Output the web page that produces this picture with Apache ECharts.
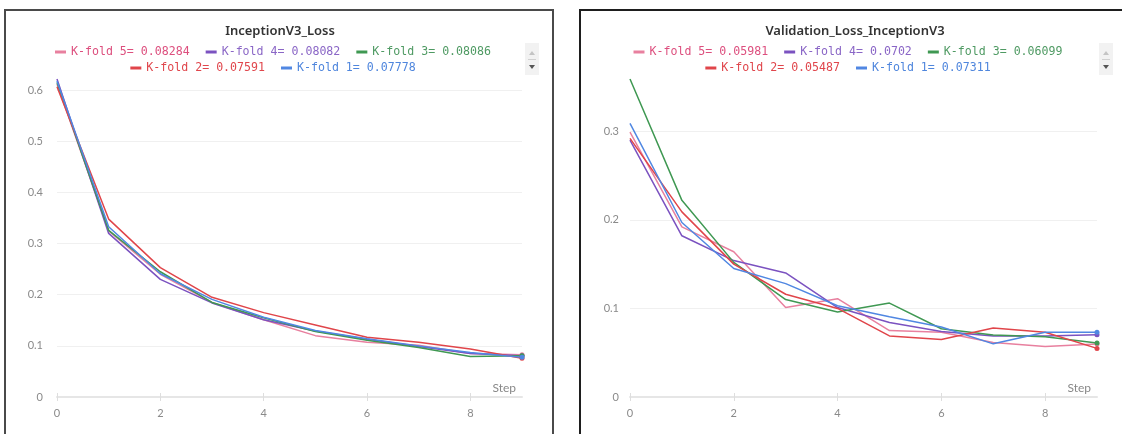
<!DOCTYPE html>
<html>
<head>
<meta charset="utf-8">
<script src="https://cdn.jsdelivr.net/npm/echarts@6/dist/echarts.min.js"></script>
<style>
html,body{margin:0;padding:0;background:#fff;}
#c{width:1122px;height:434px;}
</style>
</head>
<body>
<div id="c"></div>
<script>
// ---------- DATA ----------
const steps = [0, 1, 2, 3, 4, 5, 6, 7, 8, 9];
const foldNames = ['K-fold 5', 'K-fold 4', 'K-fold 3', 'K-fold 2', 'K-fold 1'];
const xTickValues = [0, 2, 4, 6, 8];

const trainK5 = [0.612, 0.325, 0.240, 0.185, 0.151, 0.120, 0.107, 0.101, 0.085, 0.08284];
const trainK4 = [0.622, 0.320, 0.230, 0.184, 0.151, 0.129, 0.113, 0.099, 0.085, 0.08082];
const trainK3 = [0.615, 0.326, 0.245, 0.185, 0.155, 0.128, 0.111, 0.097, 0.079, 0.08086];
const trainK2 = [0.607, 0.348, 0.253, 0.195, 0.165, 0.141, 0.117, 0.107, 0.094, 0.07591];
const trainK1 = [0.618, 0.333, 0.241, 0.191, 0.156, 0.130, 0.114, 0.100, 0.087, 0.07778];

const valK5 = [0.299, 0.192, 0.164, 0.101, 0.111, 0.075, 0.073, 0.0615, 0.057, 0.05981];
const valK4 = [0.290, 0.182, 0.154, 0.140, 0.101, 0.084, 0.074, 0.069, 0.069, 0.0702];
const valK3 = [0.359, 0.222, 0.152, 0.110, 0.096, 0.106, 0.077, 0.070, 0.068, 0.06099];
const valK2 = [0.292, 0.209, 0.150, 0.116, 0.100, 0.069, 0.065, 0.078, 0.073, 0.05487];
const valK1 = [0.309, 0.197, 0.145, 0.128, 0.103, 0.0906, 0.079, 0.060, 0.073, 0.07311];

const trainTitle = 'InceptionV3_Loss';
const valTitle = 'Validation_Loss_InceptionV3';
const xName = 'Step';

// ---------- STYLE ----------
const lineColors = ['#e8809f', '#7b52c0', '#3f9852', '#e0454a', '#5087e2'];
const textColors = ['#dd4f7e', '#8a66c6', '#4f9a63', '#e0464c', '#4f86dd'];
const legendFont = "'DejaVu Sans Mono', monospace";
const legendFontSize = 11.6;
const legendIconW = 11, legendIconH = 3, legendGap = 16;

const trainSets = [trainK5, trainK4, trainK3, trainK2, trainK1];
const valSets = [valK5, valK4, valK3, valK2, valK1];

function lastMap(sets) {
  const m = {};
  foldNames.forEach((n, i) => { m[n] = sets[i][sets[i].length - 1]; });
  return m;
}
const trainLast = lastMap(trainSets);
const valLast = lastMap(valSets);

const ctx = document.createElement('canvas').getContext('2d');
ctx.font = legendFontSize + 'px ' + legendFont;
function tw(s) { return ctx.measureText(s).width; }

function legendRow(names, last, centerX, top) {
  let w = 0;
  names.forEach((n, i) => {
    w += legendIconW + 5 + tw(n + '= ' + last[n]);
    if (i > 0) w += legendGap;
  });
  return {
    show: true,
    orient: 'horizontal',
    left: centerX - w / 2,
    top: top,
    padding: 0,
    itemGap: legendGap,
    itemWidth: legendIconW,
    itemHeight: legendIconH,
    icon: 'rect',
    selectedMode: false,
    data: names.map(n => ({ name: n, textStyle: { color: textColors[foldNames.indexOf(n)] } })),
    formatter: n => n + '= ' + last[n],
    textStyle: { fontFamily: legendFont, fontSize: legendFontSize }
  };
}

function makeSeries(sets, axisIdx) {
  return sets.map((vals, i) => ({
    name: foldNames[i],
    type: 'line',
    xAxisIndex: axisIdx,
    yAxisIndex: axisIdx,
    symbol: 'none',
    showSymbol: true,
    silent: true,
    animation: false,
    color: lineColors[i],
    lineStyle: { width: 1.5, color: lineColors[i] },
    itemStyle: { color: lineColors[i] },
    data: steps.map((s, k) => k === steps.length - 1
      ? { value: [s, vals[k]], symbol: 'circle', symbolSize: 5 }
      : [s, vals[k]])
  }));
}

const axisLabelColor = '#8a8a8a';
const tickFont = 'Lato, sans-serif';
const titleStyle = { fontFamily: "'Noto Sans', sans-serif", fontSize: 13, fontWeight: 600, color: '#333' };

function xAxisMain(gridIndex) {
  return {
    type: 'value', gridIndex: gridIndex, min: 0, max: 9, interval: 1,
    position: 'bottom',
    name: xName, nameLocation: 'end', nameGap: -6,
    nameTextStyle: { color: '#888', fontFamily: tickFont, fontSize: 12, align: 'right', verticalAlign: 'bottom', padding: [0, 0, 3, 0] },
    axisLine: { show: true, lineStyle: { color: '#e6e6e6', width: 2 } },
    axisTick: { show: true, inside: false, length: 4, customValues: xTickValues, lineStyle: { color: '#dedede', width: 1 } },
    axisLabel: { show: true, customValues: xTickValues, margin: 11, color: axisLabelColor, fontFamily: tickFont, fontSize: 11 },
    splitLine: { show: false }
  };
}
function xAxisTickUp(gridIndex) {
  return {
    type: 'value', gridIndex: gridIndex, min: 0, max: 9, interval: 1,
    position: 'bottom',
    axisLine: { show: false },
    axisTick: { show: true, inside: true, length: 4, customValues: xTickValues, lineStyle: { color: '#dedede', width: 1 } },
    axisLabel: { show: false },
    splitLine: { show: false }
  };
}
function yAxis(gridIndex, margin) {
  return {
    type: 'value', gridIndex: gridIndex, min: 0, max: v => v.max, interval: 0.1,
    axisLine: { show: false },
    axisTick: { show: false },
    axisLabel: { margin: margin, color: axisLabelColor, fontFamily: tickFont, fontSize: 11, showMaxLabel: false },
    splitLine: { show: true, showMaxLine: false, showMinLine: false, lineStyle: { color: '#f0f0f0', width: 1 } }
  };
}

function scrollBox(x) {
  return {
    type: 'group', silent: true,
    children: [
      { type: 'rect', shape: { x: x, y: 43, width: 14, height: 32 }, style: { fill: '#f2f2f2' } },
      { type: 'polygon', shape: { points: [[x + 4, 55], [x + 10, 55], [x + 7, 51]] }, style: { fill: '#c4c4c4' } },
      { type: 'line', shape: { x1: x + 3, y1: 59.5, x2: x + 11, y2: 59.5 }, style: { stroke: '#d0d0d0', lineWidth: 1 } },
      { type: 'polygon', shape: { points: [[x + 4, 65], [x + 10, 65], [x + 7, 69]] }, style: { fill: '#555' } }
    ]
  };
}

const option = {
  backgroundColor: '#ffffff',
  animation: false,
  title: [
    { text: trainTitle, left: 280, textAlign: 'center', top: 25, padding: 0, textStyle: titleStyle },
    { text: valTitle, left: 855, textAlign: 'center', top: 25, padding: 0, textStyle: titleStyle }
  ],
  legend: [
    legendRow(foldNames.slice(0, 3), trainLast, 273, 46),
    legendRow(foldNames.slice(3), trainLast, 273, 62),
    legendRow(foldNames.slice(0, 3), valLast, 848, 46),
    legendRow(foldNames.slice(3), valLast, 848, 62)
  ],
  grid: [
    { left: 57, width: 465, top: 79, height: 318 },
    { left: 630, width: 467, top: 79, height: 318 }
  ],
  xAxis: [xAxisMain(0), xAxisMain(1), xAxisTickUp(0), xAxisTickUp(1)],
  yAxis: [yAxis(0, 14), yAxis(1, 11)],
  series: makeSeries(trainSets, 0).concat(makeSeries(valSets, 1)),
  graphic: [
    { type: 'rect', silent: true, shape: { x: 5, y: 10, width: 548, height: 440 }, style: { fill: 'none', stroke: '#4a4a4a', lineWidth: 2 } },
    { type: 'rect', silent: true, shape: { x: 580, y: 10, width: 600, height: 440 }, style: { fill: 'none', stroke: '#1e1e1e', lineWidth: 2 } },
    scrollBox(525),
    scrollBox(1099)
  ]
};

const chart = echarts.init(document.getElementById('c'), null, { renderer: 'canvas' });
chart.setOption(option);
</script>
</body>
</html>
